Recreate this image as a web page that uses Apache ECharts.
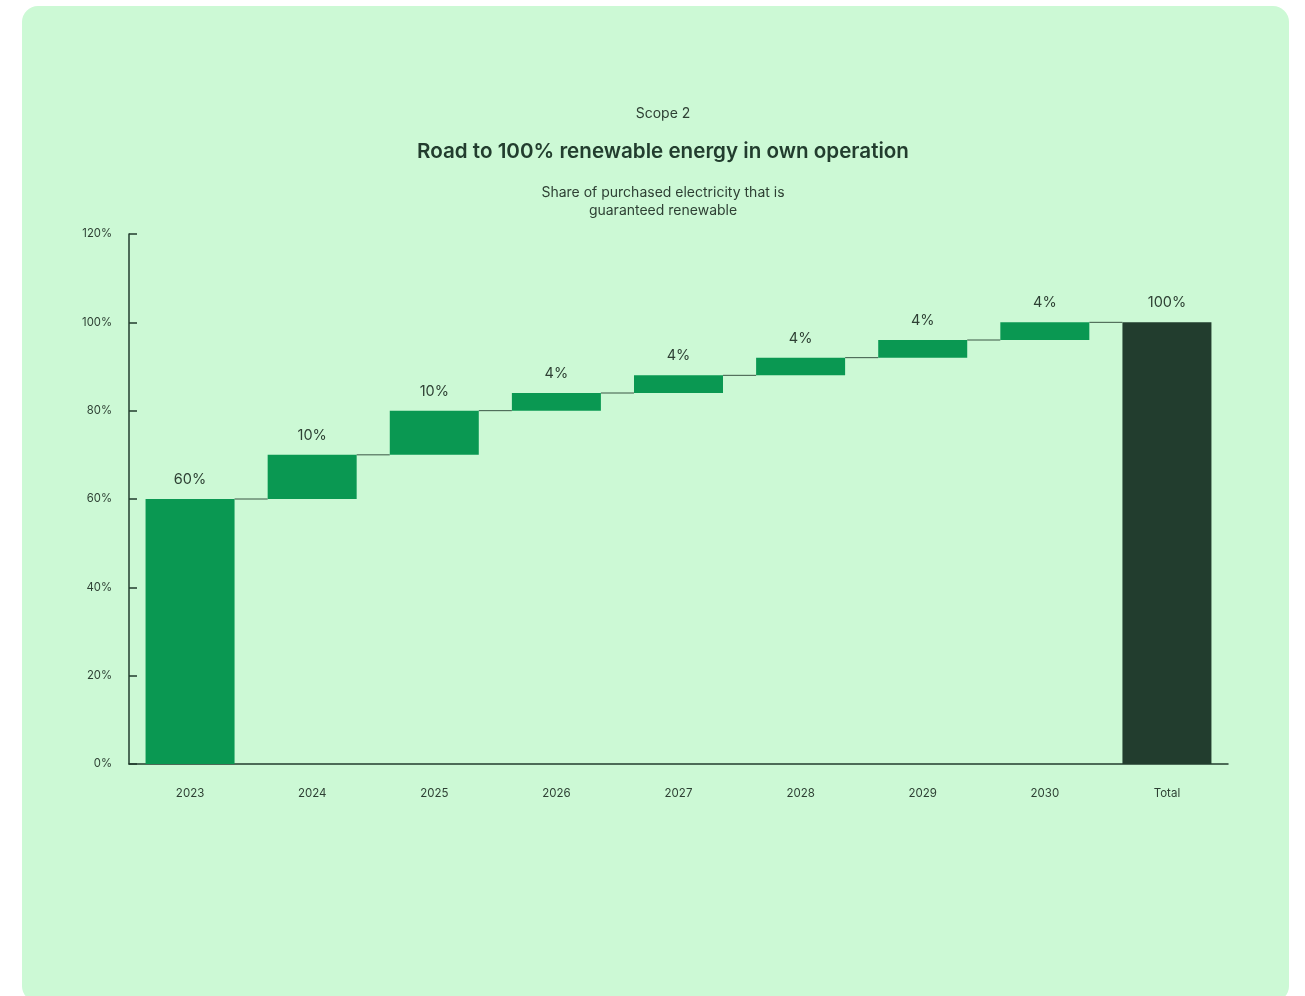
<!DOCTYPE html>
<html>
<head>
<meta charset="utf-8">
<script src="https://cdn.jsdelivr.net/npm/echarts@6/dist/echarts.min.js"></script>
<style>
  html, body { margin: 0; padding: 0; background: #ffffff; }
  #panel { position: absolute; left: 22px; top: 6px; width: 1267px; height: 996px; background: #CCF9D5; border-radius: 16px; }
  #chart { position: absolute; left: 0; top: 0; width: 1305px; height: 996px; }
</style>
</head>
<body>
<div id="panel"></div>
<div id="chart"></div>
<script>
const categories = ['2023', '2024', '2025', '2026', '2027', '2028', '2029', '2030', 'Total'];
const increments = [60, 10, 10, 4, 4, 4, 4, 4, 100];
const isTotal = [false, false, false, false, false, false, false, false, true];
const yTicks = [0, 20, 40, 60, 80, 100, 120];

// base values (cumulative start) built from increments
const bases = [];
let run = 0;
increments.forEach((v, i) => {
  if (isTotal[i]) { bases.push(0); }
  else { bases.push(run); run += v; }
});
const tops = increments.map((v, i) => bases[i] + v);

const GREEN = '#0A9852';
const DARK = '#223D2E';
const TEXT = '#2E4034';
const FONT = 'Inter';
const BAR_W = 89;
const TITLE_X = 658;

const chart = echarts.init(document.getElementById('chart'), null, { renderer: 'canvas' });
chart.setOption({
  backgroundColor: 'transparent',
  animation: false,
  title: [
    { text: 'Scope 2', left: TITLE_X, textAlign: 'center', top: 102, textStyle: { fontFamily: FONT, fontSize: 14, fontWeight: 'normal', color: TEXT } },
    { text: 'Road to 100% renewable energy in own operation', left: TITLE_X, textAlign: 'center', top: 136, textStyle: { fontFamily: FONT, fontSize: 20.6, fontWeight: 600, color: DARK } },
    { text: 'Share of purchased electricity that is\nguaranteed renewable', left: TITLE_X, top: 179, textAlign: 'center',
      textStyle: { fontFamily: FONT, fontSize: 14, fontWeight: 'normal', color: TEXT, lineHeight: 18, align: 'center' } }
  ],
  grid: { left: 129, right: 77, top: 234, bottom: 232, containLabel: false },
  xAxis: {
    type: 'category',
    data: categories,
    axisLine: { lineStyle: { color: DARK, width: 1.5 } },
    axisTick: { show: false },
    axisLabel: { fontFamily: FONT, fontSize: 11.5, color: TEXT, margin: 24 }
  },
  yAxis: {
    type: 'value',
    min: 0, max: 120, interval: 20,
    axisLine: { show: true, lineStyle: { color: DARK, width: 1.5 } },
    axisTick: { show: true, inside: true, length: 8, lineStyle: { color: DARK, width: 1.5 } },
    splitLine: { show: false },
    axisLabel: { fontFamily: FONT, fontSize: 11.3, color: TEXT, margin: 17, formatter: v => yTicks.includes(v) ? v + '%' : '' }
  },
  series: [
    {
      type: 'bar', stack: 'w', barWidth: BAR_W, silent: true,
      itemStyle: { color: 'transparent' },
      data: bases
    },
    {
      type: 'bar', stack: 'w', barWidth: BAR_W,
      data: increments.map((v, i) => ({ value: v, itemStyle: { color: isTotal[i] ? DARK : GREEN } })),
      label: { show: true, position: 'top', distance: 12, formatter: p => p.value + '%', fontFamily: FONT, fontSize: 14.5, color: TEXT }
    },
    {
      type: 'custom', z: 1,
      data: tops.slice(0, -1).map((t, i) => [i, t]),
      renderItem: (params, api) => {
        const i = api.value(0);
        const p0 = api.coord([i, api.value(1)]);
        const p1 = api.coord([i + 1, api.value(1)]);
        return {
          type: 'line',
          shape: { x1: p0[0] + BAR_W / 2, y1: p0[1], x2: p1[0] - BAR_W / 2, y2: p1[1] },
          style: { stroke: '#3B5645', lineWidth: 1 }
        };
      }
    }
  ]
});
</script>
</body>
</html>
